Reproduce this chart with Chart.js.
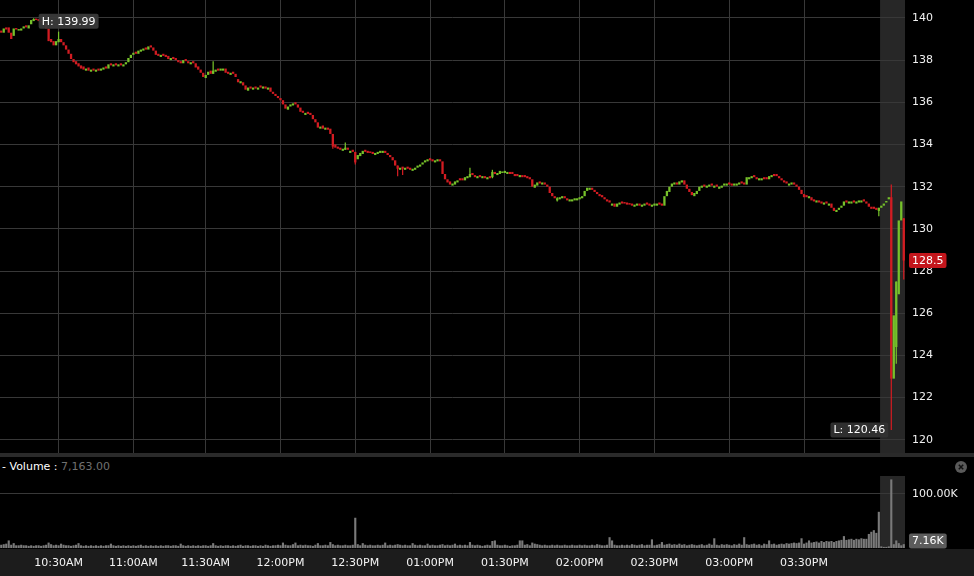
<!DOCTYPE html>
<html>
<head>
<meta charset="utf-8">
<script src="https://cdn.jsdelivr.net/npm/chart.js@4.4.1/dist/chart.umd.min.js"></script>
<style>
  html, body { margin: 0; padding: 0; background: #000; }
  body { width: 974px; height: 576px; position: relative; overflow: hidden; font-family: "DejaVu Sans", sans-serif; }
  #price-wrap { position: absolute; left: 0; top: 0; width: 974px; height: 455px; }
  #sep { position: absolute; left: 0; top: 453px; width: 974px; height: 4px; background: #2a2a2a; }
  #vol-head { position: absolute; left: 2px; top: 460px; font-size: 11px; line-height: 14px; color: #fff; white-space: pre; }
  #vol-head .val { color: #707070; }
  #close-btn { position: absolute; left: 955px; top: 461px; }
  #axis-strip { position: absolute; left: 0; top: 549px; width: 974px; height: 27px; background: #1c1c1c; }
  #vol-wrap { position: absolute; left: 0; top: 476px; width: 974px; height: 100px; }
</style>
</head>
<body>
<div id="price-wrap"><canvas id="priceChart" width="974" height="455"></canvas></div>
<div id="sep"></div>
<div id="vol-head">- Volume : <span class="val" id="vol-val"></span></div>
<svg id="close-btn" width="12" height="12"><circle cx="6" cy="6" r="6" fill="#5a5a5a"/><path d="M3.8 3.8 L8.2 8.2 M8.2 3.8 L3.8 8.2" stroke="#111" stroke-width="1.5"/></svg>
<div id="axis-strip"></div>
<div id="vol-wrap"><canvas id="volChart" width="974" height="100"></canvas></div>

<script>
// one candle per minute from 10:07AM (one minute missing in the feed), after-hours bars at the end
var startMinute = 10 * 60 + 7;
var skippedMinutes = [11 * 60 + 14];
var sessionBars = 353;

var opens = [
  139.4, 139.3, 139.55, 139.55, 139.3, 139.15, 139.5, 139.4, 139.4, 139.5,
  139.65, 139.5, 139.7, 139.85, 139.95, 139.95, 139.85, 139.8, 139.7, 139.5,
  139.0, 138.9, 138.7, 138.85, 139.0, 138.85, 138.7, 138.5, 138.3, 138.05,
  137.95, 137.85, 137.75, 137.7, 137.5, 137.65, 137.45, 137.6, 137.45, 137.6,
  137.5, 137.55, 137.7, 137.6, 137.85, 137.7, 137.85, 137.7, 137.85, 137.7,
  137.8, 137.9, 138.1, 138.25, 138.4, 138.3, 138.4, 138.45, 138.6, 138.5,
  138.7, 138.6, 138.45, 138.3, 138.15, 138.3, 138.25, 138.2, 138.0, 138.15,
  138.1, 138.0, 137.95, 137.85, 138.05, 137.95, 137.8, 137.95, 137.85, 137.7,
  137.55, 137.4, 137.15, 137.3, 137.5, 137.35, 137.45, 137.6, 137.5, 137.5,
  137.6, 137.45, 137.3, 137.45, 137.35, 137.1, 136.9, 136.95, 136.8, 136.55,
  136.75, 136.6, 136.75, 136.6, 136.8, 136.65, 136.75, 136.6, 136.7, 136.5,
  136.4, 136.3, 136.2, 136.1, 135.9, 135.65, 135.8, 135.85, 136.0, 135.9,
  135.75, 135.6, 135.4, 135.55, 135.5, 135.4, 135.2, 135.05, 134.75, 134.9,
  134.7, 134.8, 134.75, 134.5, 134.0, 133.9, 133.85, 133.7, 133.75, 133.85,
  133.6, 133.75, 133.65, 133.3, 133.45, 133.55, 133.75, 133.7, 133.65, 133.65,
  133.5, 133.55, 133.6, 133.6, 133.7, 133.6, 133.5, 133.4, 133.25, 133.0,
  132.8, 132.95, 132.8, 132.95, 132.9, 132.75, 132.8, 132.9, 132.95, 133.05,
  133.15, 133.2, 133.35, 133.3, 133.15, 133.2, 133.3, 133.2, 132.6, 132.35,
  132.25, 132.05, 132.1, 132.2, 132.4, 132.4, 132.3, 132.4, 132.45, 132.65,
  132.55, 132.4, 132.55, 132.4, 132.5, 132.35, 132.5, 132.45, 132.7, 132.55,
  132.6, 132.65, 132.65, 132.6, 132.7, 132.7, 132.6, 132.6, 132.45, 132.55,
  132.55, 132.5, 132.45, 132.35, 131.95, 132.05, 132.25, 132.1, 132.2, 132.1,
  132.0, 131.7, 131.55, 131.35, 131.4, 131.45, 131.55, 131.45, 131.3, 131.3,
  131.35, 131.35, 131.4, 131.45, 131.55, 131.8, 131.85, 131.95, 131.85, 131.75,
  131.65, 131.6, 131.5, 131.4, 131.35, 131.1, 131.2, 131.05, 131.15, 131.3,
  131.25, 131.25, 131.2, 131.2, 131.05, 131.1, 131.2, 131.05, 131.1, 131.25,
  131.2, 131.05, 131.1, 131.1, 131.25, 131.2, 131.1, 131.55, 131.75, 132.0,
  132.1, 132.2, 132.1, 132.2, 132.3, 132.1, 131.9, 131.75, 131.55, 131.65,
  131.8, 131.95, 132.1, 131.95, 132.0, 132.15, 131.95, 132.1, 131.9, 131.95,
  132.05, 132.05, 132.2, 132.15, 132.05, 132.05, 132.1, 132.25, 132.2, 132.1,
  132.35, 132.4, 132.55, 132.45, 132.3, 132.3, 132.45, 132.45, 132.35, 132.45,
  132.6, 132.6, 132.5, 132.4, 132.3, 132.25, 132.05, 132.1, 132.2, 132.1,
  132.0, 131.85, 131.65, 131.6, 131.45, 131.5, 131.4, 131.25, 131.35, 131.3,
  131.15, 131.3, 131.1, 131.2, 131.0, 130.8, 130.9, 131.0, 131.1, 131.35,
  131.2, 131.2, 131.35, 131.2, 131.25, 131.25, 131.4, 131.3, 131.2, 131.05,
  131.05, 131.0, 130.85, 131.0, 131.1, 131.25, 131.4, 131.5, 122.9, 124.4,
  126.9, 130.4, 130.5
];

var closes = [
  139.3, 139.5, 139.45, 139.3, 139.0, 139.5, 139.45, 139.45, 139.5, 139.6,
  139.55, 139.65, 139.9, 139.95, 139.9, 139.85, 139.8, 139.7, 139.5, 138.9,
  138.85, 138.7, 138.9, 139.0, 138.85, 138.7, 138.5, 138.3, 138.05, 137.9,
  137.8, 137.7, 137.6, 137.55, 137.6, 137.5, 137.55, 137.5, 137.55, 137.5,
  137.6, 137.65, 137.6, 137.8, 137.75, 137.8, 137.75, 137.8, 137.75, 137.8,
  137.9, 138.1, 138.25, 138.35, 138.3, 138.45, 138.5, 138.55, 138.5, 138.65,
  138.6, 138.45, 138.25, 138.2, 138.25, 138.2, 138.15, 138.05, 138.1, 138.05,
  138.0, 137.9, 137.85, 138.0, 137.95, 137.85, 137.9, 137.85, 137.65, 137.55,
  137.4, 137.2, 137.3, 137.45, 137.35, 137.5, 137.55, 137.5, 137.6, 137.6,
  137.4, 137.35, 137.4, 137.35, 137.2, 136.95, 137.0, 136.8, 136.6, 136.7,
  136.65, 136.7, 136.65, 136.7, 136.7, 136.75, 136.65, 136.7, 136.5, 136.4,
  136.3, 136.2, 136.1, 135.9, 135.7, 135.8, 135.9, 135.95, 135.9, 135.75,
  135.55, 135.5, 135.5, 135.45, 135.4, 135.2, 135.05, 134.8, 134.85, 134.75,
  134.8, 134.7, 134.5, 133.9, 133.85, 133.8, 133.75, 133.8, 133.85, 133.75,
  133.7, 133.65, 133.15, 133.5, 133.6, 133.7, 133.65, 133.6, 133.6, 133.55,
  133.6, 133.65, 133.7, 133.7, 133.6, 133.5, 133.4, 133.25, 133.0, 132.85,
  132.9, 132.85, 132.9, 132.85, 132.8, 132.85, 132.9, 133.0, 133.05, 133.15,
  133.25, 133.3, 133.25, 133.2, 133.25, 133.3, 133.2, 132.6, 132.35, 132.2,
  132.1, 132.15, 132.25, 132.3, 132.3, 132.3, 132.45, 132.5, 132.6, 132.55,
  132.45, 132.5, 132.45, 132.5, 132.4, 132.45, 132.4, 132.7, 132.6, 132.65,
  132.75, 132.7, 132.75, 132.7, 132.6, 132.6, 132.5, 132.5, 132.55, 132.45,
  132.45, 132.4, 132.35, 132.0, 132.1, 132.2, 132.15, 132.2, 132.1, 132.0,
  131.7, 131.55, 131.45, 131.45, 131.5, 131.55, 131.45, 131.35, 131.4, 131.4,
  131.45, 131.45, 131.5, 131.55, 131.8, 131.95, 131.95, 131.85, 131.75, 131.65,
  131.55, 131.5, 131.4, 131.3, 131.25, 131.2, 131.05, 131.2, 131.25, 131.2,
  131.2, 131.15, 131.15, 131.1, 131.15, 131.2, 131.1, 131.15, 131.2, 131.15,
  131.1, 131.15, 131.2, 131.2, 131.15, 131.1, 131.55, 131.8, 132.0, 132.15,
  132.2, 132.1, 132.25, 132.3, 132.1, 131.9, 131.75, 131.6, 131.7, 131.8,
  132.0, 132.05, 132.0, 132.05, 132.1, 132.05, 132.05, 132.0, 132.0, 132.05,
  132.15, 132.15, 132.1, 132.05, 132.15, 132.15, 132.2, 132.15, 132.1, 132.45,
  132.45, 132.5, 132.45, 132.35, 132.4, 132.4, 132.35, 132.35, 132.5, 132.55,
  132.5, 132.5, 132.4, 132.3, 132.2, 132.15, 132.15, 132.2, 132.1, 132.0,
  131.85, 131.65, 131.5, 131.5, 131.55, 131.35, 131.3, 131.35, 131.25, 131.2,
  131.25, 131.2, 131.2, 131.0, 130.85, 130.9, 131.0, 131.1, 131.3, 131.25,
  131.3, 131.3, 131.25, 131.3, 131.35, 131.35, 131.3, 131.2, 131.05, 130.95,
  130.95, 130.9, 131.0, 131.1, 131.2, 131.3, 131.5, 122.9, 125.9, 127.5,
  130.4, 131.3, 128.5
];

// [bar index, low, high] for the bars whose wick shows outside the body
var wicks = [
  [13, 139.85, 139.99], [23, 138.85, 139.35], [85, 137.35, 137.95], [133, 133.8, 134.5],
  [138, 133.75, 134.1], [142, 133.05, 133.65], [159, 132.5, 133.0], [161, 132.55, 132.9],
  [188, 132.45, 132.9], [197, 132.4, 132.8], [223, 131.3, 131.5], [352, 130.6, 131.0],
  [357, 120.46, 132.1], [359, 123.6, 127.5], [362, 127.6, 130.5]
];

// volume in thousands
var volumes = [
  6, 7, 8, 14, 6, 9, 5, 5, 6, 5,
  5, 4, 5, 4, 5, 5, 4, 5, 6, 10,
  7, 5, 6, 5, 8, 6, 5, 5, 4, 5,
  6, 9, 5, 4, 5, 4, 5, 4, 5, 4,
  5, 4, 5, 5, 8, 5, 4, 5, 4, 5,
  4, 5, 4, 5, 4, 5, 6, 4, 5, 4,
  5, 4, 5, 4, 5, 4, 5, 5, 4, 5,
  5, 4, 8, 5, 4, 5, 4, 5, 4, 5,
  4, 5, 5, 4, 5, 9, 5, 4, 5, 4,
  5, 5, 4, 5, 4, 5, 6, 4, 5, 5,
  4, 5, 5, 4, 5, 4, 6, 5, 4, 5,
  5, 6, 5, 10, 6, 5, 5, 7, 10, 5,
  6, 5, 6, 5, 5, 4, 6, 9, 5, 5,
  6, 5, 11, 7, 5, 6, 5, 5, 6, 5,
  5, 6, 56, 7, 5, 9, 6, 5, 6, 5,
  5, 6, 5, 6, 10, 5, 6, 5, 6, 7,
  6, 5, 6, 5, 5, 9, 6, 5, 6, 5,
  5, 8, 5, 6, 5, 5, 6, 7, 5, 6,
  5, 6, 8, 5, 6, 5, 6, 5, 11, 6,
  5, 6, 5, 4, 5, 6, 5, 13, 14, 6,
  5, 5, 6, 5, 4, 5, 5, 6, 14, 14,
  6, 7, 5, 10, 8, 7, 6, 5, 6, 5,
  5, 6, 5, 6, 5, 5, 6, 5, 5, 6,
  5, 5, 6, 5, 6, 5, 5, 6, 5, 7,
  6, 5, 5, 6, 20, 14, 6, 5, 5, 6,
  5, 6, 5, 7, 6, 5, 6, 7, 5, 6,
  6, 16, 5, 6, 7, 11, 6, 7, 8, 6,
  7, 6, 8, 6, 7, 5, 6, 7, 6, 5,
  6, 7, 5, 6, 8, 6, 18, 6, 5, 7,
  6, 7, 6, 5, 7, 6, 8, 6, 20, 7,
  6, 7, 8, 6, 7, 5, 8, 7, 14, 7,
  8, 6, 7, 8, 7, 9, 8, 9, 10, 9,
  10, 18, 8, 10, 14, 10, 11, 12, 10, 13,
  11, 13, 12, 13, 11, 13, 14, 15, 22, 15,
  16, 17, 15, 17, 16, 18, 17, 17, 26, 30,
  33, 28, 67, 3, 2, 2, 3, 127, 7, 14,
  9, 5, 7.163
];

var yTicks = [120, 122, 124, 126, 128, 130, 132, 134, 136, 138, 140];
var volTicks = [100];
var timeTicks = ['10:30AM', '11:00AM', '11:30AM', '12:00PM', '12:30PM', '01:00PM',
  '01:30PM', '02:00PM', '02:30PM', '03:00PM', '03:30PM'];
var boldTicks = ['12:00PM', '03:00PM'];

var GREEN = '#76c12a';
var RED = '#d21c22';
var GRID = '#383838';
var FONT = { family: 'DejaVu Sans', size: 11 };

function fmtTime(m) {
  var h = Math.floor(m / 60), mm = m % 60;
  var ap = h >= 12 ? 'PM' : 'AM';
  var h12 = h % 12 || 12;
  return String(h12).padStart(2, '0') + ':' + String(mm).padStart(2, '0') + ap;
}

var labels = [];
var minute = startMinute;
while (labels.length < closes.length) {
  if (skippedMinutes.indexOf(minute) < 0) labels.push(fmtTime(minute));
  minute++;
}

var bodies = closes.map(function (c, i) { return [opens[i], c]; });
var bodyColors = closes.map(function (c, i) { return c >= opens[i] ? GREEN : RED; });
var wickData = closes.map(function () { return null; });
wicks.forEach(function (w) { wickData[w[0]] = [w[1], w[2]]; });

var highIdx = 13, highVal = 139.99;
var lowIdx = 357, lowVal = 120.46;

function gridForTimes(ctx) {
  var lab = labels[ctx.index];
  return timeTicks.indexOf(lab) >= 0 ? GRID : 'rgba(0,0,0,0)';
}

function noPad(s) {
  s.paddingTop = 0; s.paddingBottom = 0; s.paddingLeft = 0; s.paddingRight = 0;
}

// grey band behind the after-hours bars
var afterHours = {
  id: 'afterHours',
  beforeDraw: function (chart) {
    var ctx = chart.ctx, a = chart.chartArea, x = chart.scales.x;
    var left = (x.getPixelForValue(sessionBars - 1) + x.getPixelForValue(sessionBars)) / 2;
    ctx.save();
    ctx.fillStyle = '#272727';
    ctx.fillRect(left, a.top, a.right - left, a.bottom - a.top);
    ctx.restore();
  }
};

function tag(ctx, text, x, y, bg, alignRight) {
  ctx.save();
  ctx.font = '11px "DejaVu Sans"';
  var w = ctx.measureText(text).width + 6;
  var left = alignRight ? x - w : x;
  ctx.fillStyle = bg;
  ctx.beginPath();
  ctx.roundRect(left, y - 7.5, w, 15, 2);
  ctx.fill();
  ctx.fillStyle = '#fff';
  ctx.textBaseline = 'middle';
  ctx.fillText(text, left + 3, y + 0.5);
  ctx.restore();
}

var priceTags = {
  id: 'priceTags',
  afterDraw: function (chart) {
    var ctx = chart.ctx, x = chart.scales.x, y = chart.scales.y, a = chart.chartArea;
    tag(ctx, 'H: ' + highVal.toFixed(2), x.getPixelForValue(highIdx) + 5, y.getPixelForValue(highVal) + 3, 'rgba(58,58,58,0.95)', false);
    tag(ctx, 'L: ' + lowVal.toFixed(2), x.getPixelForValue(lowIdx) - 3, y.getPixelForValue(lowVal), 'rgba(50,50,50,0.95)', true);
    var last = closes[closes.length - 1];
    tag(ctx, String(last), a.right + 4, y.getPixelForValue(last), '#c4161c', false);
  }
};

var volTag = {
  id: 'volTag',
  afterDraw: function (chart) {
    var ctx = chart.ctx, y = chart.scales.y, a = chart.chartArea;
    var last = volumes[volumes.length - 1];
    var py = Math.min(y.getPixelForValue(last), a.bottom - 7);
    tag(ctx, last.toFixed(2) + 'K', a.right + 4, py, '#5c5c5c', false);
  }
};

new Chart(document.getElementById('priceChart'), {
  type: 'bar',
  data: {
    labels: labels,
    datasets: [{
      data: bodies,
      backgroundColor: bodyColors,
      grouped: false,
      categoryPercentage: 1,
      barPercentage: 0.92,
      minBarLength: 1.5,
      borderWidth: 0,
      borderSkipped: false
    }, {
      data: wickData,
      backgroundColor: bodyColors,
      grouped: false,
      categoryPercentage: 1,
      barPercentage: 0.5,
      borderWidth: 0,
      borderSkipped: false
    }]
  },
  options: {
    responsive: false,
    animation: false,
    layout: { padding: 0 },
    plugins: { legend: { display: false }, tooltip: { enabled: false } },
    scales: {
      x: {
        offset: true,
        grid: { offset: false, color: gridForTimes, drawTicks: false },
        border: { display: false },
        ticks: { display: false, autoSkip: false },
        afterFit: function (s) { s.height = 0; noPad(s); }
      },
      y: {
        position: 'right',
        min: 119.28,
        max: 140.85,
        afterBuildTicks: function (s) { s.ticks = yTicks.map(function (v) { return { value: v }; }); },
        afterFit: function (s) { s.width = 69; noPad(s); },
        grid: { color: GRID, drawTicks: false },
        border: { display: false },
        ticks: { color: '#f0f0f0', font: FONT, padding: 7 }
      }
    }
  },
  plugins: [afterHours, priceTags]
});

new Chart(document.getElementById('volChart'), {
  type: 'bar',
  data: {
    labels: labels,
    datasets: [{
      data: volumes,
      backgroundColor: '#7a7a7a',
      categoryPercentage: 1,
      barPercentage: 0.85,
      borderWidth: 0
    }]
  },
  options: {
    responsive: false,
    animation: false,
    layout: { padding: 0 },
    plugins: { legend: { display: false }, tooltip: { enabled: false } },
    scales: {
      x: {
        offset: true,
        grid: { offset: false, color: gridForTimes, drawTicks: false },
        border: { display: false },
        ticks: {
          autoSkip: false,
          maxRotation: 0,
          color: '#f4f4f4',
          padding: 9,
          font: function (ctx) {
            var lab = labels[ctx.index];
            return { family: 'DejaVu Sans', size: 11, weight: boldTicks.indexOf(lab) >= 0 ? 'bold' : 'normal' };
          },
          callback: function (v, i) {
            return timeTicks.indexOf(labels[i]) >= 0 ? labels[i] : null;
          }
        },
        afterFit: function (s) { s.height = 28; noPad(s); }
      },
      y: {
        position: 'right',
        min: 0,
        max: 133.3,
        afterBuildTicks: function (s) { s.ticks = volTicks.map(function (v) { return { value: v }; }); },
        afterFit: function (s) { s.width = 69; noPad(s); },
        grid: { color: GRID, drawTicks: false },
        border: { display: false },
        ticks: {
          color: '#f0f0f0', font: FONT, padding: 7,
          callback: function (v) { return v.toFixed(2) + 'K'; }
        }
      }
    }
  },
  plugins: [afterHours, volTag]
});

document.getElementById('vol-val').textContent =
  (volumes[volumes.length - 1] * 1000).toLocaleString('en-US', { minimumFractionDigits: 2 });
</script>
</body>
</html>
